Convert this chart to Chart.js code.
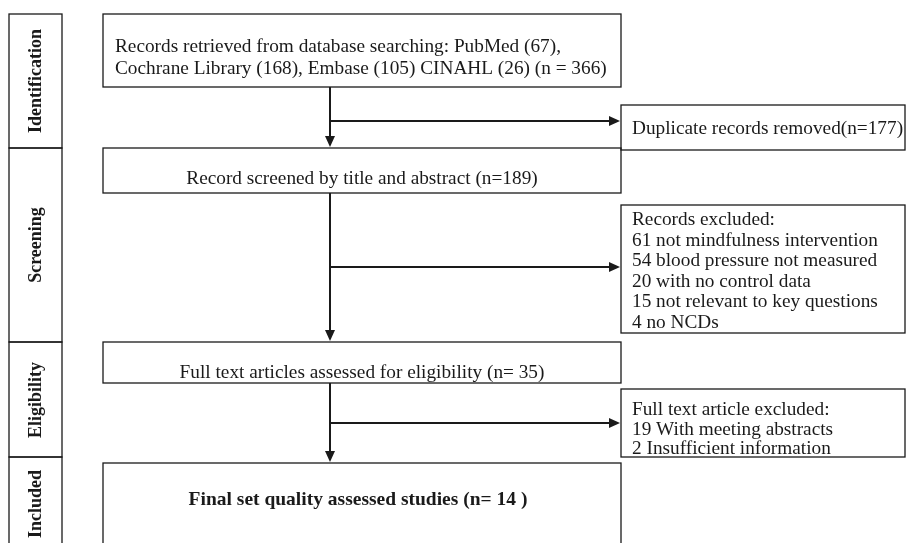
<!DOCTYPE html>
<html>
<head>
<meta charset="utf-8">
<script src="https://cdn.jsdelivr.net/npm/chart.js@4/dist/chart.umd.min.js"></script>
<style>
  html, body { margin: 0; padding: 0; background: #fff; }
  #wrap { width: 906px; height: 543px; position: relative; }
</style>
</head>
<body>
<div id="wrap"><canvas id="flow"></canvas></div>
<script>
// PRISMA flow counts
const stages = ['Identification', 'Screening', 'Eligibility', 'Included'];
const databases = ['PubMed', 'Cochrane Library', 'Embase', 'CINAHL'];
const databaseCounts = [67, 168, 105, 26];
const totalRetrieved = 366;
const duplicatesRemoved = 177;
const screened = 189;
const excludedReasons = ['not mindfulness intervention', 'blood pressure not measured', 'with no control data', 'not relevant to key questions', 'no NCDs'];
const excludedCounts = [61, 54, 20, 15, 4];
const fullText = 35;
const fullTextReasons = ['With meeting abstracts', 'Insufficient information'];
const fullTextCounts = [19, 2];
const finalStudies = 14;

// layout in scale units (x 0..906, y 0..543 top-down)
const stageBoxes = [[9, 14, 62, 148], [9, 148, 62, 342], [9, 342, 62, 457], [9, 457, 62, 560]];
const mainBoxes = [[103, 14, 621, 87], [103, 148, 621, 193], [103, 342, 621, 383], [103, 463, 621, 560]];
const sideBoxes = [[621, 105, 905, 150], [621, 205, 905, 333], [621, 389, 905, 457]];
const spineX = 330;
const branchY = [121, 267, 423];

const black = '#1a1a1a';
const serif = '"Liberation Serif", "Times New Roman", serif';

const flowPlugin = {
  id: 'flow',
  afterDatasetsDraw(chart) {
    const ctx = chart.ctx;
    const sx = chart.scales.x, sy = chart.scales.y;
    const X = v => sx.getPixelForValue(v);
    const Y = v => sy.getPixelForValue(v);
    ctx.save();
    ctx.strokeStyle = black;
    ctx.fillStyle = black;

    const rect = (b, w) => {
      ctx.lineWidth = w;
      ctx.strokeRect(X(b[0]), Y(b[1]), X(b[2]) - X(b[0]), Y(b[3]) - Y(b[1]));
    };
    stageBoxes.forEach(b => rect(b, 1.3));
    mainBoxes.forEach(b => rect(b, 1.3));
    sideBoxes.forEach(b => rect(b, 1.3));

    // arrows
    const head = (x, y, dir) => {
      ctx.beginPath();
      if (dir === 'down') {
        ctx.moveTo(x, y); ctx.lineTo(x - 5, y - 11); ctx.lineTo(x + 5, y - 11);
      } else {
        ctx.moveTo(x, y); ctx.lineTo(x - 11, y - 5); ctx.lineTo(x - 11, y + 5);
      }
      ctx.closePath();
      ctx.fill();
    };
    ctx.lineWidth = 2;
    for (let i = 0; i < 3; i++) {
      const top = mainBoxes[i][3], bot = mainBoxes[i + 1][1];
      ctx.beginPath();
      ctx.moveTo(X(spineX), Y(top));
      ctx.lineTo(X(spineX), Y(bot) - 6);
      ctx.moveTo(X(spineX), Y(branchY[i]));
      ctx.lineTo(X(sideBoxes[i][0]) - 6, Y(branchY[i]));
      ctx.stroke();
      head(X(spineX), Y(bot) - 1, 'down');
      head(X(sideBoxes[i][0]) - 1, Y(branchY[i]), 'right');
    }

    // stage labels
    ctx.font = 'bold 18px ' + serif;
    ctx.textAlign = 'center';
    ctx.textBaseline = 'middle';
    const labelCentres = [81, 245, 400, 504];
    stages.forEach((s, i) => {
      const b = stageBoxes[i];
      ctx.save();
      ctx.translate(X((b[0] + b[2]) / 2) + 1, Y(labelCentres[i]));
      ctx.rotate(-Math.PI / 2);
      ctx.fillText(s, 0, 0);
      ctx.restore();
    });

    // main box texts
    ctx.textBaseline = 'alphabetic';
    ctx.font = '19.3px ' + serif;
    ctx.textAlign = 'left';
    const dbText = databases.map((d, i) => d + ' (' + databaseCounts[i] + ')');
    ctx.fillText('Records retrieved from database searching: ' + dbText[0] + ',', X(115), Y(52));
    ctx.fillText(dbText[1] + ', ' + dbText[2] + ' ' + dbText[3] + ' (n = ' + totalRetrieved + ')', X(115), Y(74));
    ctx.textAlign = 'center';
    const mid = X((mainBoxes[1][0] + mainBoxes[1][2]) / 2);
    ctx.fillText('Record screened by title and abstract (n=' + screened + ')', mid, Y(184));
    ctx.fillText('Full text articles assessed for eligibility (n= ' + fullText + ')', mid, Y(378));
    ctx.font = 'bold 19.5px ' + serif;
    ctx.fillText('Final set quality assessed studies (n= ' + finalStudies + ' )', X(358), Y(505));

    // side box texts
    ctx.font = '19.3px ' + serif;
    ctx.textAlign = 'left';
    ctx.fillText('Duplicate records removed(n=' + duplicatesRemoved + ')', X(632), Y(134));
    const excl = ['Records excluded:'].concat(excludedReasons.map((r, i) => excludedCounts[i] + ' ' + r));
    excl.forEach((t, i) => ctx.fillText(t, X(632), Y(225 + i * 20.6)));
    const ft = ['Full text article excluded:'].concat(fullTextReasons.map((r, i) => fullTextCounts[i] + ' ' + r));
    ft.forEach((t, i) => ctx.fillText(t, X(632), Y(415 + i * 19.5)));
    ctx.restore();
  }
};

new Chart(document.getElementById('flow'), {
  type: 'scatter',
  data: { datasets: [{ data: [], pointRadius: 0 }] },
  options: {
    responsive: true,
    maintainAspectRatio: false,
    animation: false,
    layout: { padding: 0 },
    plugins: { legend: { display: false }, tooltip: { enabled: false } },
    scales: {
      x: { type: 'linear', min: 0, max: 906, display: false },
      y: { type: 'linear', min: 0, max: 543, reverse: true, display: false }
    }
  },
  plugins: [flowPlugin]
});
</script>
</body>
</html>
